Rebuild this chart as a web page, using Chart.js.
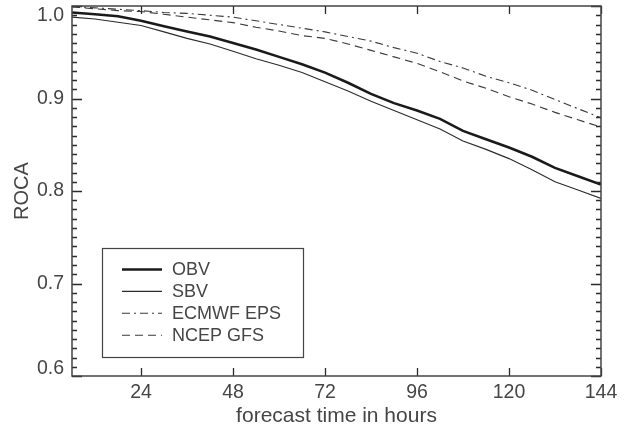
<!DOCTYPE html>
<html>
<head>
<meta charset="utf-8">
<script src="https://cdn.jsdelivr.net/npm/chart.js@4.4.0/dist/chart.umd.min.js"></script>
<style>
  html, body { margin: 0; padding: 0; background: #fff; }
  #wrap { width: 628px; height: 429px; }
</style>
</head>
<body>
<div id="wrap"><canvas id="chart_roca"></canvas></div>
<script>
// forecast time (hours) and ROCA per method
const hours = [6, 12, 18, 24, 30, 36, 42, 48, 54, 60, 66, 72, 78, 84, 90, 96, 102, 108, 114, 120, 126, 132, 138, 144];
const obv   = [0.993, 0.991, 0.989, 0.984, 0.978, 0.9725, 0.967, 0.960, 0.953, 0.945, 0.937, 0.928, 0.917, 0.905, 0.895, 0.887, 0.878, 0.865, 0.856, 0.847, 0.837, 0.825, 0.816, 0.807];
const sbv   = [0.988, 0.986, 0.9825, 0.979, 0.972, 0.965, 0.959, 0.951, 0.943, 0.936, 0.928, 0.918, 0.908, 0.897, 0.887, 0.877, 0.867, 0.854, 0.845, 0.835, 0.823, 0.810, 0.801, 0.792];
const ecmwf = [0.9995, 0.998, 0.9965, 0.995, 0.993, 0.992, 0.990, 0.988, 0.984, 0.980, 0.976, 0.972, 0.967, 0.962, 0.955, 0.949, 0.940, 0.933, 0.924, 0.917, 0.909, 0.899, 0.889, 0.879];
const ncep  = [0.999, 0.997, 0.995, 0.994, 0.991, 0.988, 0.985, 0.982, 0.977, 0.973, 0.968, 0.965, 0.959, 0.952, 0.945, 0.938, 0.929, 0.919, 0.911, 0.902, 0.894, 0.885, 0.877, 0.869];

const xTicks = [24, 48, 72, 96, 120, 144];
const yTicks = [0.6, 0.7, 0.8, 0.9, 1.0];

const font = "'Liberation Sans', Arial, Helvetica, sans-serif";
const textColor = '#454545';

const toPoints = arr => arr.map((v, i) => ({ x: hours[i], y: v }));

// ticks inside the box, y labels pulled in at the ends, legend box
const frame = {
  id: 'frame',
  afterDraw(chart) {
    let { ctx, chartArea: ca } = chart;
    let { x, y } = chart.scales;
    ctx.save();

    ctx.strokeStyle = '#2a2a2a';
    ctx.lineWidth = 1.3;
    for (let i = 0; i <= 40; i++) {
      let py = Math.round(y.getPixelForValue(0.6 + i * 0.01)) + 0.5;
      let len = i % 10 === 0 ? 10 : 5;
      ctx.beginPath();
      ctx.moveTo(ca.left, py); ctx.lineTo(ca.left + len, py);
      ctx.moveTo(ca.right, py); ctx.lineTo(ca.right - len, py);
      ctx.stroke();
    }
    xTicks.forEach(v => {
      let px = Math.round(x.getPixelForValue(v)) + 0.5;
      ctx.beginPath();
      ctx.moveTo(px, ca.bottom); ctx.lineTo(px, ca.bottom - 8);
      ctx.moveTo(px, ca.top); ctx.lineTo(px, ca.top + 8);
      ctx.stroke();
    });

    ctx.lineWidth = 1.5;
    ctx.strokeStyle = '#444';
    ctx.strokeRect(ca.left, ca.top, ca.right - ca.left, ca.bottom - ca.top);

    ctx.fillStyle = textColor;
    ctx.font = '19.5px ' + font;
    ctx.textAlign = 'right';
    ctx.textBaseline = 'middle';
    yTicks.forEach(v => {
      let py = Math.min(Math.max(y.getPixelForValue(v), ca.top + 10), ca.bottom - 7);
      ctx.fillText(v.toFixed(1), ca.left - 8, py);
    });

    // legend
    let bx = 102, by = 248, bw = 201, bh = 109;
    ctx.fillStyle = '#fff';
    ctx.fillRect(bx, by, bw, bh);
    ctx.lineWidth = 1.2;
    ctx.strokeStyle = '#444';
    ctx.strokeRect(bx + 0.5, by + 0.5, bw, bh);
    ctx.font = '18px ' + font;
    ctx.textAlign = 'left';
    chart.data.datasets.forEach((ds, i) => {
      let ly = 269.5 + i * 21.9;
      ctx.beginPath();
      ctx.setLineDash(ds.borderDash || []);
      ctx.lineWidth = ds.borderWidth;
      ctx.strokeStyle = ds.borderColor;
      ctx.moveTo(122, ly); ctx.lineTo(162, ly);
      ctx.stroke();
      ctx.setLineDash([]);
      ctx.fillStyle = textColor;
      ctx.fillText(ds.label, 172, ly + 1);
    });
    ctx.restore();
  }
};

const line = (label, values, color, width, dash) => ({
  label: label,
  data: toPoints(values),
  borderColor: color,
  borderWidth: width,
  borderDash: dash,
  pointRadius: 0,
  fill: false,
  tension: 0
});

new Chart('chart_roca', {
  type: 'line',
  plugins: [frame],
  data: {
    datasets: [
      line('OBV', obv, '#1a1a1a', 2.6, []),
      line('SBV', sbv, '#2a2a2a', 1.1, []),
      line('ECMWF EPS', ecmwf, '#3a3a3a', 1.1, [8, 4, 2, 4]),
      line('NCEP GFS', ncep, '#3a3a3a', 1.1, [8, 5])
    ]
  },
  options: {
    responsive: true,
    maintainAspectRatio: false,
    animation: false,
    layout: { padding: { left: 0, right: 27, top: 6, bottom: 0 } },
    plugins: { legend: { display: false }, tooltip: { enabled: false } },
    scales: {
      x: {
        type: 'linear',
        min: 6,
        max: 144,
        afterBuildTicks: s => { s.ticks = xTicks.map(v => ({ value: v })); },
        afterFit: s => { s.height = 53; },
        grid: { display: false, drawTicks: false },
        border: { display: false },
        ticks: { color: textColor, font: { family: font, size: 19.5 }, padding: 5, maxRotation: 0 },
        title: {
          display: true,
          text: 'forecast time in hours',
          color: textColor,
          font: { family: font, size: 21 },
          padding: { top: 0, bottom: 0 }
        }
      },
      y: {
        min: 0.6,
        max: 1.0,
        afterFit: s => { s.width = 72; },
        grid: { display: false, drawTicks: false },
        border: { display: false },
        ticks: { display: false },
        title: {
          display: true,
          text: 'ROCA',
          color: textColor,
          font: { family: font, size: 20 },
          padding: { top: 10, bottom: 0 }
        }
      }
    }
  }
});
</script>
</body>
</html>
